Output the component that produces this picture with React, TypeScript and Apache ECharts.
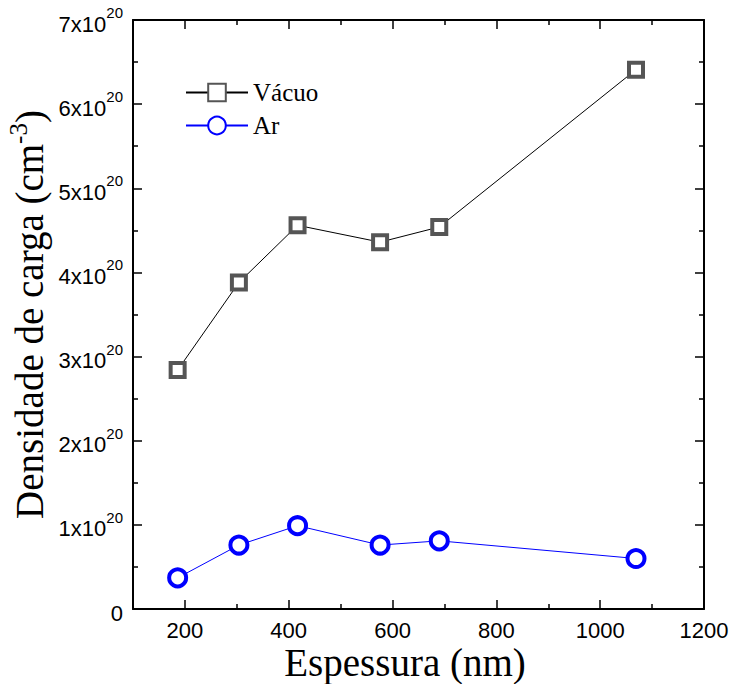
import React, { useEffect, useRef } from "react";
import * as echarts from "echarts";

const thickness = [186, 304, 417, 576, 690, 1069];
const vacuoDensity = [2.84e20, 3.88e20, 4.56e20, 4.36e20, 4.54e20, 6.41e20];
const arDensity = [0.37e20, 0.76e20, 0.99e20, 0.76e20, 0.81e20, 0.6e20];
const xMajorTicks = [200, 400, 600, 800, 1000, 1200];
const xMinorTicks = [300, 500, 700, 900, 1100];
const seriesNames = ["Vácuo", "Ar"];

const SANS = "Liberation Sans";
const SERIF = "Liberation Serif";

export default function App() {
  const ref = useRef<HTMLDivElement>(null);

  useEffect(() => {
    if (!ref.current) return;
    const chart = echarts.init(ref.current, undefined, { renderer: "svg" });
    const axisLineStyle = { color: "#000", width: 2 };
    const tickStyle = { color: "#000", width: 1.5 };
    const xBase = {
      type: "value",
      min: 100,
      max: 1200,
      splitLine: { show: false },
    };
    const yBase = {
      type: "value",
      min: 0,
      max: 7e20,
      interval: 1e20,
      splitLine: { show: false },
      axisLine: { show: true, onZero: false, lineStyle: axisLineStyle },
      axisTick: { show: true, inside: true, length: 9, lineStyle: tickStyle },
      minorTick: { show: true, splitNumber: 2, length: 5, lineStyle: tickStyle },
    };
    chart.setOption({
      animation: false,
      backgroundColor: "#fff",
      grid: {
        left: 133,
        right: 26,
        top: 20,
        bottom: 75,
        containLabel: false,
        outerBoundsMode: "none",
      },
      legend: {
        data: seriesNames,
        orient: "vertical",
        left: 180,
        top: 75,
        itemWidth: 62,
        itemHeight: 22,
        itemGap: 8,
        selectedMode: false,
        textStyle: { fontFamily: SERIF, fontSize: 25, color: "#000" },
      },
      xAxis: [
        {
          ...xBase,
          position: "bottom",
          axisLine: { show: true, onZero: false, lineStyle: axisLineStyle },
          axisTick: { show: true, inside: true, length: 9, customValues: xMajorTicks, lineStyle: tickStyle },
          axisLabel: {
            show: true,
            customValues: xMajorTicks,
            formatter: (v: number) => String(v),
            fontFamily: SANS,
            fontSize: 22,
            color: "#000",
            margin: 10,
          },
        },
        {
          ...xBase,
          position: "bottom",
          axisLine: { show: false, onZero: false },
          axisTick: { show: true, inside: true, length: 5, customValues: xMinorTicks, lineStyle: tickStyle },
          axisLabel: { show: false },
        },
        {
          ...xBase,
          position: "top",
          axisLine: { show: true, onZero: false, lineStyle: axisLineStyle },
          axisTick: { show: true, inside: true, length: 9, customValues: xMajorTicks, lineStyle: tickStyle },
          axisLabel: { show: false },
        },
        {
          ...xBase,
          position: "top",
          axisLine: { show: false, onZero: false },
          axisTick: { show: true, inside: true, length: 5, customValues: xMinorTicks, lineStyle: tickStyle },
          axisLabel: { show: false },
        },
      ],
      yAxis: [
        {
          ...yBase,
          position: "left",
          name: "Densidade de carga (cm{sup|-3})",
          nameLocation: "middle",
          nameRotate: 90,
          nameGap: 81,
          nameMoveOverlap: false,
          nameTextStyle: {
            fontFamily: SERIF,
            fontSize: 39,
            color: "#000",
            lineHeight: 46,
            rich: {
              sup: { fontFamily: SERIF, fontSize: 25, color: "#000", lineHeight: 28, verticalAlign: "top" },
            },
          },
          axisLabel: {
            show: true,
            margin: 10,
            formatter: (v: number) => {
              const n = Math.round(v / 1e20);
              return n === 0 ? "{base|0}" : `{base|${n}x10}{sup|20}`;
            },
            rich: {
              base: { fontFamily: SANS, fontSize: 22, color: "#000", lineHeight: 30, verticalAlign: "bottom" },
              sup: { fontFamily: SANS, fontSize: 15, color: "#000", lineHeight: 17, verticalAlign: "top" },
            },
          },
        },
        {
          ...yBase,
          position: "right",
          axisLabel: { show: false },
        },
      ],
      graphic: [
        {
          type: "text",
          x: 405,
          y: 662,
          style: {
            text: "Espessura (nm)",
            fontFamily: SERIF,
            fontSize: 39,
            fill: "#000",
            align: "center",
            verticalAlign: "middle",
          },
        },
      ],
      series: [
        {
          name: seriesNames[0],
          type: "line",
          xAxisIndex: 0,
          yAxisIndex: 0,
          data: thickness.map((t, i) => [t, vacuoDensity[i]]),
          symbol: "rect",
          symbolSize: 14,
          itemStyle: { color: "#fff", borderColor: "#555", borderWidth: 4 },
          lineStyle: { color: "#000", width: 1 },
          emphasis: { disabled: true },
        },
        {
          name: seriesNames[1],
          type: "line",
          xAxisIndex: 0,
          yAxisIndex: 0,
          data: thickness.map((t, i) => [t, arDensity[i]]),
          symbol: "circle",
          symbolSize: 17,
          itemStyle: { color: "#fff", borderColor: "#0000ff", borderWidth: 4 },
          lineStyle: { color: "#0000ff", width: 1 },
          emphasis: { disabled: true },
        },
      ],
    });
    return () => chart.dispose();
  }, []);

  return (
    <div
      ref={ref}
      style={{ position: "fixed", left: 0, top: 0, width: 730, height: 684, background: "#fff" }}
    />
  );
}
